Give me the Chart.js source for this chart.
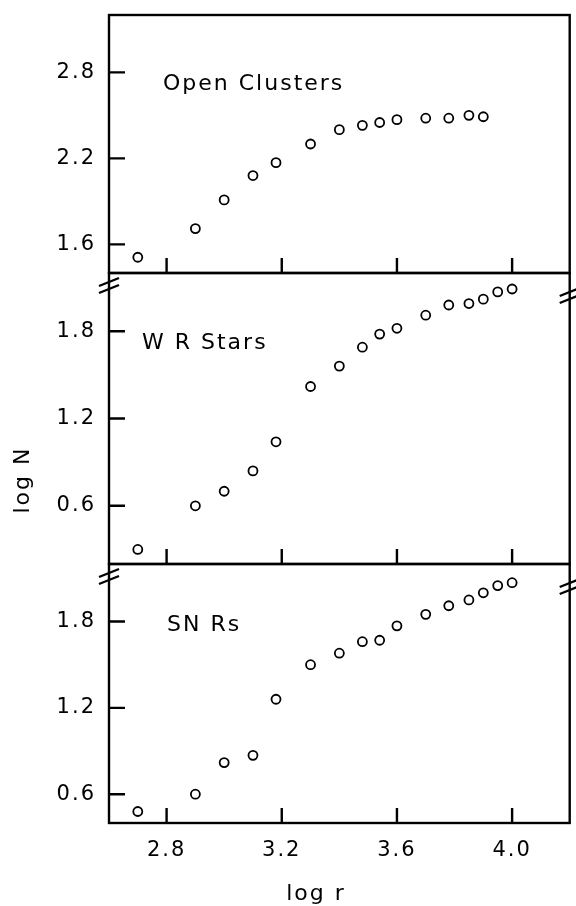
<!DOCTYPE html>
<html>
<head>
<meta charset="utf-8">
<script src="https://cdn.jsdelivr.net/npm/chart.js@4.4.1/dist/chart.umd.min.js"></script>
<style>
  body { margin: 0; background: #fff; }
  #wrap { position: relative; width: 576px; height: 906px; }
  #wrap canvas { position: absolute; left: 0; top: 0; }
</style>
</head>
<body>
<div id="wrap">
  <canvas id="c1" width="576" height="906"></canvas>
  <canvas id="c2" width="576" height="906"></canvas>
  <canvas id="c3" width="576" height="906"></canvas>
</div>
<script>
// log r values (shared x positions)
const logR = [2.70, 2.90, 3.00, 3.10, 3.18, 3.30, 3.40, 3.48, 3.54, 3.60, 3.70, 3.78, 3.85, 3.90, 3.95, 4.00];

// log N per sample
const openClusters = [1.51, 1.71, 1.91, 2.08, 2.17, 2.30, 2.40, 2.43, 2.45, 2.47, 2.48, 2.48, 2.50, 2.49];
const wrStars = [0.30, 0.60, 0.70, 0.84, 1.04, 1.42, 1.56, 1.69, 1.78, 1.82, 1.91, 1.98, 1.99, 2.02, 2.07, 2.09];
const snrs = [0.48, 0.60, 0.82, 0.87, 1.26, 1.50, 1.58, 1.66, 1.67, 1.77, 1.85, 1.91, 1.95, 2.00, 2.05, 2.07];

// ticks
const xTicks = [2.8, 3.2, 3.6, 4.0];
const yTicksOC = [1.6, 2.2, 2.8];
const yTicksWR = [0.6, 1.2, 1.8];
const yTicksSNR = [0.6, 1.2, 1.8];

const FONT = "'DejaVu Sans', sans-serif";
const H = 906;

// spacing of letters like the old lettering
const spacingPlugin = {
  id: 'spacing',
  beforeDraw(chart) { chart.ctx.letterSpacing = '2px'; }
};

// frame, inward ticks, panel labels, axis breaks
const framePlugin = {
  id: 'frame',
  afterDraw(chart) {
    const o = chart.config.options.panel;
    const { left, right, top, bottom } = chart.chartArea;
    const ctx = chart.ctx;
    ctx.save();
    ctx.strokeStyle = '#000';
    ctx.lineWidth = 2.4;
    ctx.strokeRect(left, top, right - left, bottom - top);

    // ticks pointing inwards
    ctx.beginPath();
    xTicks.forEach(v => {
      const px = chart.scales.x.getPixelForValue(v);
      ctx.moveTo(px, bottom);
      ctx.lineTo(px, bottom - 15);
    });
    o.yTicks.forEach(v => {
      const py = chart.scales.y.getPixelForValue(v);
      ctx.moveTo(left, py);
      ctx.lineTo(left + 16, py);
    });
    ctx.stroke();

    // break marks
    if (o.breaks) {
      [[left, top + 12], [right, top + 22]].forEach(([bx, by]) => {
        ctx.save();
        ctx.lineWidth = 2.4;
        ctx.beginPath();
        ctx.moveTo(bx - 10, by + 1); ctx.lineTo(bx + 10, by - 7);
        ctx.moveTo(bx - 10, by + 8); ctx.lineTo(bx + 10, by);
        ctx.stroke();
        ctx.restore();
      });
    }

    // panel name
    ctx.fillStyle = '#000';
    ctx.font = '22px ' + FONT;
    ctx.letterSpacing = '2px';
    ctx.textAlign = 'left';
    ctx.textBaseline = 'alphabetic';
    ctx.fillText(o.name, o.nameX, o.nameY);

    if (o.yTitle) {
      ctx.save();
      ctx.translate(29, 480);
      ctx.rotate(-Math.PI / 2);
      ctx.textAlign = 'center';
      ctx.fillText('log N', 0, 0);
      ctx.restore();
    }
    if (o.xTitle) {
      ctx.textAlign = 'center';
      ctx.fillText('log r', 316, 900);
    }
    ctx.restore();
  }
};

function makePanel(id, values, yMin, yMax, yTicks, top, bottom, extra) {
  const pts = values.map((v, i) => ({ x: logR[i], y: v }));
  const xH = extra.xLabels ? 50 : 0;
  return new Chart(document.getElementById(id), {
    type: 'scatter',
    data: {
      datasets: [{
        data: pts,
        pointStyle: 'circle',
        pointRadius: 4.5,
        pointBorderWidth: 1.8,
        pointBorderColor: '#000',
        pointBackgroundColor: '#fff'
      }]
    },
    options: {
      responsive: false,
      animation: false,
      events: [],
      layout: { padding: { left: 0, right: 1, top: top, bottom: H - bottom - xH } },
      plugins: { legend: { display: false }, tooltip: { enabled: false } },
      scales: {
        x: {
          type: 'linear', min: 2.6, max: 4.2,
          afterFit: s => { s.height = xH; s.paddingLeft = 0; s.paddingRight = 0; },
          afterBuildTicks: s => { s.ticks = xTicks.map(v => ({ value: v })); },
          grid: { display: false, drawTicks: false },
          border: { display: false },
          ticks: {
            display: extra.xLabels,
            autoSkip: false,
            maxRotation: 0,
            padding: 15,
            color: '#000',
            font: { family: FONT, size: 21 },
            callback: v => v.toFixed(1)
          }
        },
        y: {
          type: 'linear', min: yMin, max: yMax,
          afterFit: s => { s.width = 109; s.paddingTop = 0; s.paddingBottom = 0; },
          afterBuildTicks: s => { s.ticks = yTicks.map(v => ({ value: v })); },
          grid: { display: false, drawTicks: false },
          border: { display: false },
          ticks: {
            autoSkip: false,
            padding: 13,
            color: '#000',
            font: { family: FONT, size: 21 },
            callback: v => v.toFixed(1)
          }
        }
      },
      panel: Object.assign({ yTicks: yTicks }, extra)
    },
    plugins: [spacingPlugin, framePlugin]
  });
}

makePanel('c1', openClusters, 1.4, 3.2, yTicksOC, 15, 273,
  { name: 'Open Clusters', nameX: 163, nameY: 90, xLabels: false, breaks: false });
makePanel('c2', wrStars, 0.2, 2.2, yTicksWR, 273, 564,
  { name: 'W R Stars', nameX: 142, nameY: 349, xLabels: false, breaks: true, yTitle: true });
makePanel('c3', snrs, 0.4, 2.2, yTicksSNR, 564, 823,
  { name: 'SN Rs', nameX: 167, nameY: 631, xLabels: true, breaks: true, xTitle: true });
</script>
</body>
</html>
